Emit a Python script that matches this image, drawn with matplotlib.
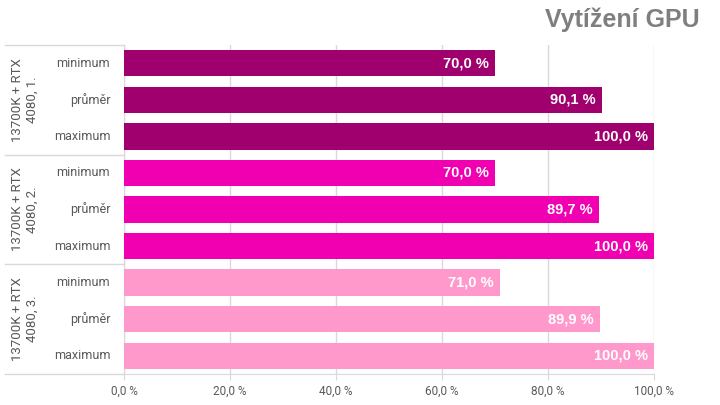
import matplotlib
matplotlib.use("Agg")
import matplotlib.pyplot as plt
from matplotlib.lines import Line2D

groups = ["13700K + RTX\n4080, 1.", "13700K + RTX\n4080, 2.", "13700K + RTX\n4080, 3."]
categories = ["minimum", "průměr", "maximum"]
values = [
    [70.0, 90.1, 100.0],
    [70.0, 89.7, 100.0],
    [71.0, 89.9, 100.0],
]
colors = ["#A0006E", "#F000B0", "#FF99CC"]
xticks = [0, 20, 40, 60, 80, 100]
title = "Vytížení GPU"

fig = plt.figure(figsize=(7.2, 4.05), dpi=100)
L, R, B, T = 124/720, 654/720, (405-374)/405, (405-45)/405
ax = fig.add_axes([L, B, R-L, T-B])

n = len(groups) * len(categories)
pos = 0
for gi, g in enumerate(groups):
    for ci, c in enumerate(categories):
        y = pos + 0.5
        v = values[gi][ci]
        ax.barh(y, v, height=0.72, color=colors[gi], zorder=3)
        ax.text(v - 1.2, y, f"{v:.1f} %".replace(".", ","), ha="right", va="center",
                color="white", fontsize=10.5, fontweight="bold", family="Liberation Sans", zorder=4)
        ax.text(-2.6, y, c, ha="right", va="center", color="#595959", fontsize=9,
                family="Roboto", transform=ax.transData, clip_on=False)
        pos += 1

ax.set_xlim(0, 100)
ax.set_ylim(n, 0)
ax.set_yticks([])
ax.set_xticks(xticks)
ax.set_xticklabels([f"{t:.1f} %".replace(".", ",") for t in xticks], fontsize=8.5,
                   color="#595959", family="Roboto")
ax.tick_params(axis="x", length=4, color="#D9D9D9", pad=4)
ax.grid(axis="x", color="#D9D9D9", linewidth=1, zorder=0)
for s in ["top", "right"]:
    ax.spines[s].set_visible(False)
ax.spines["left"].set_color("#D9D9D9")
ax.spines["bottom"].set_color("#D9D9D9")

# group separators and labels in left area
x0 = 5/720
for k in range(len(groups) + 1):
    yfig = T - (T - B) * (k * 3) / n
    fig.add_artist(Line2D([x0, L], [yfig, yfig], color="#D9D9D9", lw=1, transform=fig.transFigure))
for gi, g in enumerate(groups):
    yc = T - (T - B) * (gi * 3 + 1.5) / n
    fig.text(25/720, yc, g, rotation=90, ha="center", va="center", color="#595959",
             fontsize=9.5, family="Roboto", linespacing=1.15)

fig.text(700/720, 1 - 20/405, title, ha="right", va="center", fontsize=18,
         fontweight="bold", color="#7F7F7F", family="Liberation Sans")

fig.savefig("out.png", dpi=100)
